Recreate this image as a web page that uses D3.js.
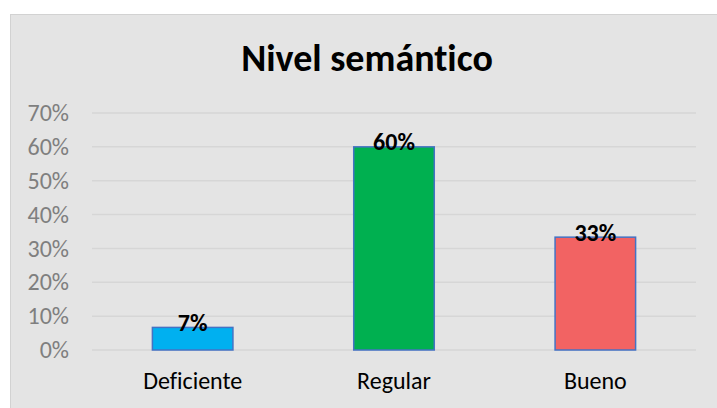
<!DOCTYPE html>
<html>
<head>
<meta charset="utf-8">
<script src="https://cdn.jsdelivr.net/npm/d3@7"></script>
<style>
  html, body { margin: 0; padding: 0; background: #ffffff; }
  svg { display: block; }
  svg text { font-family: Carlito, Lato, sans-serif; font-variant-ligatures: none; }
</style>
</head>
<body>
<svg id="chart" width="717" height="408"></svg>
<script>
const title = "Nivel semántico";
const categories = ["Deficiente", "Regular", "Bueno"];
const values = [0.0667, 0.60, 0.3333];
const valueLabels = ["7%", "60%", "33%"];
const barColors = ["#00b0f0", "#00b050", "#f26363"];
const yTicks = [0, 0.1, 0.2, 0.3, 0.4, 0.5, 0.6, 0.7];

const W = 717, H = 408;
const svg = d3.select("#chart");
const FONT = "Carlito, Lato, sans-serif";

// chart frame
svg.append("rect")
  .attr("x", 10.5).attr("y", 14.5)
  .attr("width", W).attr("height", H)
  .attr("fill", "#e4e4e4")
  .attr("stroke", "#d2d2d2").attr("stroke-width", 1);

const plot = { left: 92, right: 696, top: 113, bottom: 350 };

const x = d3.scaleBand()
  .domain(categories)
  .range([plot.left, plot.right])
  .paddingInner(0.6).paddingOuter(0.3);

const y = d3.scaleLinear()
  .domain([0, 0.7])
  .range([plot.bottom, plot.top]);

// gridlines
svg.append("g")
  .selectAll("line")
  .data(yTicks)
  .join("line")
  .attr("x1", plot.left).attr("x2", plot.right)
  .attr("y1", d => y(d)).attr("y2", d => y(d))
  .attr("stroke", "#d6d6d6").attr("stroke-width", 1.5);

// y axis labels
const yAxis = d3.axisLeft(y)
  .tickValues(yTicks)
  .tickFormat(d3.format(".0%"))
  .tickSize(0).tickPadding(0);
const yg = svg.append("g")
  .attr("transform", `translate(69,0)`)
  .call(yAxis)
  .attr("font-family", FONT).attr("font-size", 24);
yg.select(".domain").remove();
yg.selectAll("text")
  .attr("fill", "#7f7f7f")
  .attr("dy", "0.32em");

// bars
svg.append("g")
  .selectAll("rect")
  .data(categories)
  .join("rect")
  .attr("x", d => x(d))
  .attr("y", (d, i) => y(values[i]))
  .attr("width", x.bandwidth())
  .attr("height", (d, i) => y(0) - y(values[i]))
  .attr("fill", (d, i) => barColors[i])
  .attr("stroke", "#4472c4").attr("stroke-width", 1.5);

// value labels
svg.append("g")
  .selectAll("text")
  .data(categories)
  .join("text")
  .attr("x", d => x(d) + x.bandwidth() / 2)
  .attr("y", (d, i) => y(values[i]) + 3.5)
  .attr("text-anchor", "middle")
  .attr("fill", "#000000")
  .attr("font-family", FONT)
  .attr("font-size", 24)
  .attr("font-weight", "bold")
  .text((d, i) => valueLabels[i]);

// x axis labels
const xAxis = d3.axisBottom(x).tickSize(0).tickPadding(0);
const xg = svg.append("g")
  .attr("transform", `translate(0,389)`)
  .call(xAxis)
  .attr("font-family", FONT).attr("font-size", 24);
xg.select(".domain").remove();
xg.selectAll("text")
  .attr("fill", "#000000")
  .attr("y", 0).attr("dy", 0);

// title
svg.append("text")
  .attr("x", 367).attr("y", 70.7)
  .attr("text-anchor", "middle")
  .attr("fill", "#000000")
  .attr("font-family", FONT)
  .attr("font-size", 38)
  .attr("font-weight", "bold")
  .text(title);
</script>
</body>
</html>
